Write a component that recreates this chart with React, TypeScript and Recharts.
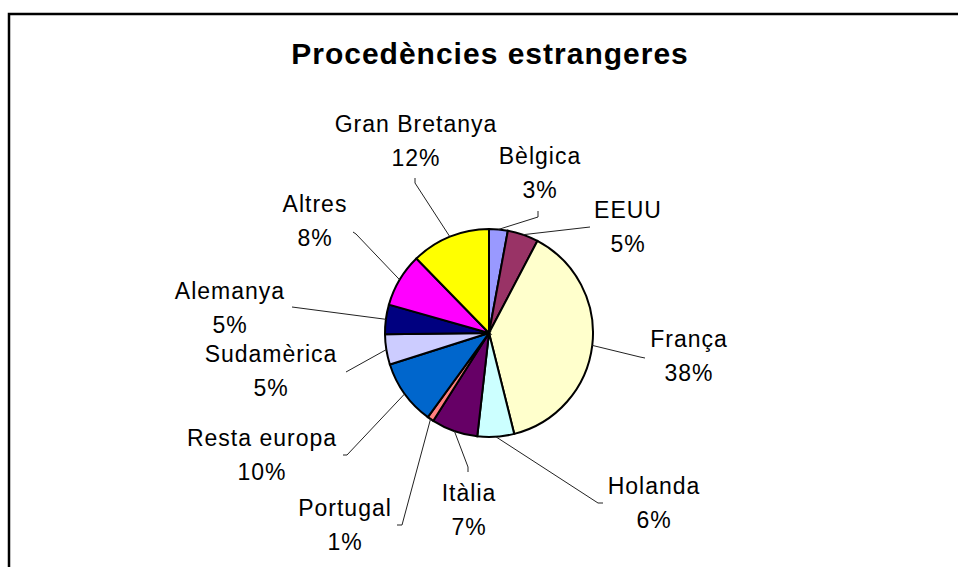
import React from 'react';
import { Cell, Pie, PieChart } from 'recharts';

const countries = ['Bèlgica', 'EEUU', 'França', 'Holanda', 'Itàlia', 'Portugal', 'Resta europa', 'Sudamèrica', 'Alemanya', 'Altres', 'Gran Bretanya'];
const shares = [2.9, 4.8, 38.4, 5.7, 7.2, 1.0, 10.1, 4.7, 4.6, 8.3, 12.3];
const colors = ['#9999FF', '#993366', '#FFFFCC', '#CCFFFF', '#660066', '#FF8080', '#0066CC', '#CCCCFF', '#000080', '#FF00FF', '#FFFF00'];

const data = countries.map((name, i) => ({ name, value: shares[i] }));

// label placement relative to the pie centre: leader end, tick end, text centre x, name row y
const labelLayout = [
  { e: [49, -116], t: [49, -122], tx: 51, ny: -178 },
  { e: [101, -106], t: [101, -106], tx: 139, ny: -124 },
  { e: [151, 24], t: [156, 25], tx: 200, ny: 5 },
  { e: [109, 170], t: [114, 170], tx: 165, ny: 152 },
  { e: [-21, 134], t: [-21, 139], tx: -20, ny: 159 },
  { e: [-87, 192], t: [-92, 192], tx: -144, ny: 174 },
  { e: [-142, 122], t: [-146, 122], tx: -227, ny: 104 },
  { e: [-143, 39], t: [-143, 39], tx: -218, ny: 20 },
  { e: [-197, -26], t: [-197, -26], tx: -259, ny: -43 },
  { e: [-133, -99], t: [-136, -101], tx: -174, ny: -130 },
  { e: [-74, -150], t: [-74, -155], tx: -73, ny: -210 },
];

const RADIAN = Math.PI / 180;
const FONT = '"Liberation Sans", Arial, sans-serif';

const renderLabel = (props: any) => {
  const { cx, cy, midAngle, outerRadius, percent, index, name } = props;
  const l = labelLayout[index];
  const sx = cx + outerRadius * Math.cos(-midAngle * RADIAN);
  const sy = cy + outerRadius * Math.sin(-midAngle * RADIAN);
  const ex = cx + l.e[0];
  const ey = cy + l.e[1];
  const textStyle = { fontFamily: FONT, fontSize: 23, letterSpacing: 1, fill: '#000' };
  return (
    <g key={`lbl-${index}`}>
      <polyline
        points={`${sx},${sy} ${ex},${ey} ${cx + l.t[0]},${cy + l.t[1]}`}
        fill="none"
        stroke="#222"
        strokeWidth={1}
      />
      <text x={cx + l.tx} y={cy + l.ny + 8.5} textAnchor="middle" style={textStyle}>{name}</text>
      <text x={cx + l.tx} y={cy + l.ny + 43} textAnchor="middle" style={textStyle}>{`${Math.round(percent * 100)}%`}</text>
    </g>
  );
};

export default function App() {
  return (
    <div style={{ position: 'absolute', left: 0, top: 0, width: 958, height: 567, background: '#fff', overflow: 'hidden' }}>
      <svg width={958} height={567} style={{ position: 'absolute', left: 0, top: 0 }}>
        <rect x={9} y={14} width={1000} height={600} fill="#fff" stroke="#000" strokeWidth={2.5} />
        <text x={490} y={64} textAnchor="middle" style={{ fontFamily: FONT, fontSize: 30, fontWeight: 700, letterSpacing: 1 }}>
          Procedències estrangeres
        </text>
      </svg>
      <div style={{ position: 'absolute', left: 0, top: 0 }}>
        <PieChart width={958} height={567} margin={{ top: 0, right: 0, bottom: 0, left: 0 }}>
          <Pie
            data={data}
            dataKey="value"
            nameKey="name"
            cx={489}
            cy={333}
            outerRadius={104}
            startAngle={90}
            endAngle={-270}
            stroke="#000"
            strokeWidth={2}
            label={renderLabel}
            labelLine={false}
            isAnimationActive={false}
          >
            {data.map((d, i) => <Cell key={d.name} fill={colors[i]} />)}
          </Pie>
        </PieChart>
      </div>
    </div>
  );
}
